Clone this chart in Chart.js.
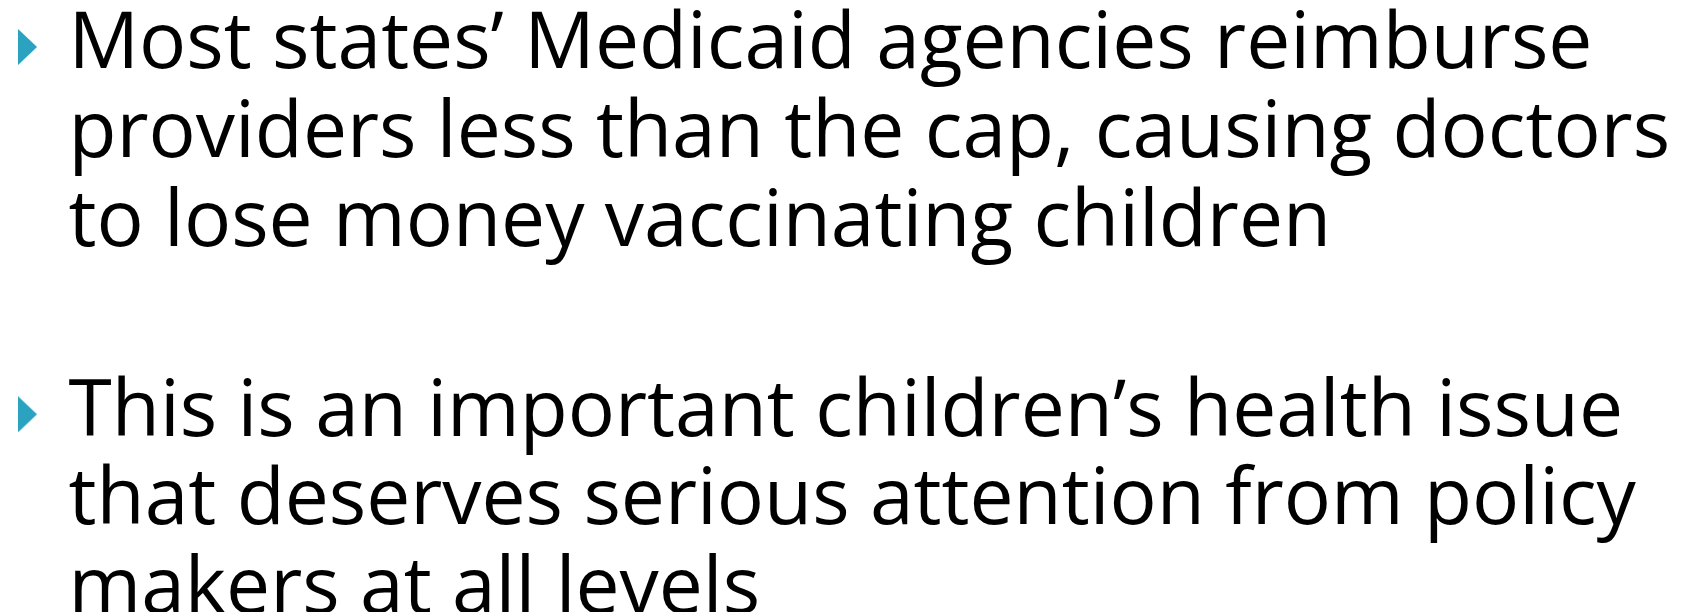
<!DOCTYPE html>
<html>
<head>
<meta charset="utf-8">
<script src="https://cdn.jsdelivr.net/npm/chart.js@4/dist/chart.umd.min.js"></script>
<style>
  html, body { margin: 0; padding: 0; background: #fff; }
  #wrap { position: relative; width: 1686px; height: 612px; }
</style>
</head>
<body>
<div id="wrap"><canvas id="slide"></canvas></div>
<script>
// texto de las viñetas, una lista por viñeta (una entrada por renglón)
const bullet1 = ["Most states’ Medicaid agencies reimburse",
                 "providers less than the cap, causing doctors",
                 "to lose money vaccinating children"];
const bullet2 = ["This is an important children’s health issue",
                 "that deserves serious attention from policy",
                 "makers at all levels"];
const bullets = [bullet1, bullet2];
// renglón donde empieza cada viñeta (en unidades de renglón)
const bulletRows = [0, 4.15];
const bulletCol = 0, textCol = 1;

// triángulo de la viñeta como imagen para pointStyle
function makeArrow(color) {
  const c = document.createElement('canvas');
  c.width = 19; c.height = 36;
  const g = c.getContext('2d');
  g.fillStyle = color;
  g.beginPath(); g.moveTo(0,0); g.lineTo(19,18); g.lineTo(0,36); g.closePath(); g.fill();
  return c;
}

const FONT = '78.5px "Open Sans"';

// dibuja los renglones de texto alineados con las escalas del chart
const textPlugin = {
  id: 'bulletText',
  afterDatasetsDraw(chart) {
    const {ctx, scales:{x, y}} = chart;
    ctx.save();
    ctx.font = FONT;
    ctx.fillStyle = '#000';
    ctx.textAlign = 'left';
    ctx.textBaseline = 'alphabetic';
    const half = ctx.measureText('x').actualBoundingBoxAscent / 2;
    bullets.forEach((lines, i) => {
      lines.forEach((t, j) => {
        ctx.fillText(t, x.getPixelForValue(textCol), y.getPixelForValue(bulletRows[i] + j) + half);
      });
    });
    ctx.restore();
  }
};

document.fonts.load(FONT).then(() => {
  new Chart(document.getElementById('slide'), {
    type: 'scatter',
    data: {
      datasets: [{
        data: bulletRows.map(r => ({x: bulletCol, y: r})),
        pointStyle: makeArrow('#2aa2c0'),
        pointRadius: 10
      }]
    },
    options: {
      responsive: true,
      maintainAspectRatio: false,
      animation: false,
      layout: { padding: 0, autoPadding: false },
      scales: {
        x: { display: false, min: -0.671, max: 40.451 },
        y: { display: false, reverse: true, min: -0.531, max: 6.384 }
      },
      plugins: { legend: { display: false }, tooltip: { enabled: false } }
    },
    plugins: [textPlugin]
  });
});
</script>
</body>
</html>
